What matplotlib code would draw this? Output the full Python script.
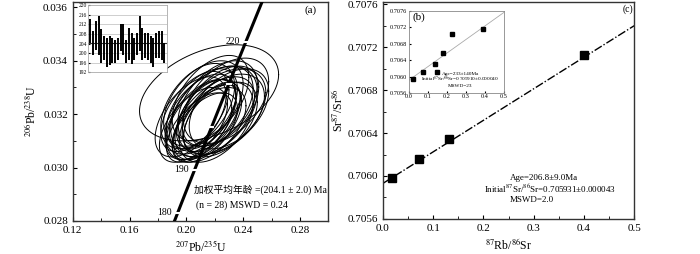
import numpy as np
import matplotlib
matplotlib.use('Agg')
import matplotlib.pyplot as plt

plt.rcParams['font.family'] = ['Liberation Serif', 'Noto Sans CJK SC']
plt.rcParams['mathtext.fontset'] = 'stix'
plt.rcParams['xtick.direction'] = 'in'
plt.rcParams['ytick.direction'] = 'in'

# U-Pb ellipses (207Pb/235U, 206Pb/238U, 2s errors, correlation)
ell_x = [0.212, 0.218, 0.205, 0.222, 0.210, 0.225, 0.215, 0.208, 0.220, 0.228, 0.213, 0.217, 0.203, 0.224,
         0.219, 0.209, 0.224, 0.214, 0.211, 0.226, 0.216, 0.206, 0.221, 0.212, 0.218, 0.230, 0.210, 0.216]
ell_y = [0.0318, 0.0322, 0.0316, 0.0324, 0.0320, 0.0321, 0.0317, 0.0323, 0.0319, 0.0325, 0.0315, 0.0326, 0.0319, 0.0318,
         0.0321, 0.0315, 0.0323, 0.0320, 0.0322, 0.0320, 0.0316, 0.0321, 0.0317, 0.0324, 0.0319, 0.0322, 0.0318, 0.0328]
ell_ex = [0.026, 0.029, 0.024, 0.028, 0.025, 0.031, 0.024, 0.026, 0.028, 0.030, 0.023, 0.027, 0.025, 0.026,
          0.031, 0.023, 0.027, 0.021, 0.025, 0.029, 0.026, 0.024, 0.026, 0.028, 0.020, 0.028, 0.025, 0.049]
ell_ey = [0.0015, 0.0016, 0.0014, 0.0016, 0.0015, 0.0016, 0.0014, 0.0016, 0.0015, 0.0016, 0.0013, 0.0016, 0.0015, 0.0014,
          0.0017, 0.0013, 0.0015, 0.0013, 0.0015, 0.0015, 0.0014, 0.0015, 0.0015, 0.0016, 0.0013, 0.0015, 0.0015, 0.0018]
ell_rho = [0.52, 0.48, 0.55, 0.45, 0.50, 0.44, 0.56, 0.47, 0.51, 0.45, 0.54, 0.49, 0.53, 0.46,
           0.44, 0.57, 0.48, 0.52, 0.50, 0.45, 0.51, 0.54, 0.47, 0.45, 0.58, 0.44, 0.53, 0.38]

# weighted mean inset: age ranges of each spot (Ma)
spot_lo = [204.1, 199.3, 201.3, 199.3, 196.0, 197.0, 194.1, 195.0, 196.0, 196.0, 197.0, 201.0, 199.3, 196.0,
           197.0, 195.3, 197.0, 199.3, 201.0, 197.0, 198.1, 197.0, 196.0, 194.1, 198.1, 198.1, 197.0, 196.0]
spot_hi = [214.3, 209.3, 213.3, 215.3, 210.1, 207.3, 206.3, 207.3, 206.3, 205.3, 206.3, 212.3, 212.3, 205.3,
           210.3, 208.3, 206.3, 208.3, 215.3, 210.3, 208.3, 208.3, 207.3, 206.3, 208.3, 209.3, 209.3, 204.3]
mean_age = 204.1

concordia_ages = [180, 190, 200, 210, 220]
concordia_labels = ['180', '190', '', '', '220']

# Rb-Sr isochron (c)
rb_sr = [0.018, 0.071, 0.131, 0.400]
sr_sr = [0.70598, 0.70616, 0.70634, 0.70713]
sr0_c = 0.705931
slope_c = 0.002937

# inset (b)
rb_sr_b = [0.023, 0.072, 0.135, 0.149, 0.179, 0.228, 0.388]
sr_sr_b = [0.70593, 0.70612, 0.70631, 0.70611, 0.70658, 0.70703, 0.70715]
sr0_b = 0.705910
slope_b = 0.00331

l238 = 1.55125e-10
l235 = 9.8485e-10

fig = plt.figure(figsize=(7, 2.54), dpi=100)

# ---------- (a) ----------
ax = fig.add_axes([0.104, 0.130, 0.365, 0.862])
t = np.linspace(0, 2 * np.pi, 200)
for i in range(len(ell_x)):
    r = ell_rho[i]
    xs = ell_x[i] + ell_ex[i] * np.cos(t)
    ys = ell_y[i] + ell_ey[i] * (r * np.cos(t) + np.sqrt(1 - r * r) * np.sin(t))
    ax.plot(xs, ys, color='black', lw=0.7, zorder=2)

ages = np.linspace(170e6, 235e6, 300)
ax.plot(np.exp(l235 * ages) - 1, np.exp(l238 * ages) - 1, color='black', lw=2.2, zorder=3)
for a, lab in zip(concordia_ages, concordia_labels):
    ax.plot(np.exp(l235 * a * 1e6) - 1, np.exp(l238 * a * 1e6) - 1, marker='_', ms=4, mew=1.5,
            color='white', zorder=4)
    if lab:
        ax.text(np.exp(l235 * a * 1e6) - 1 - 0.004, np.exp(l238 * a * 1e6) - 1, lab,
                fontsize=7, ha='right', va='center', zorder=5)

ax.text(0.2055, 0.02917, '加权平均年龄 =(204.1 ± 2.0) Ma', fontsize=7, va='center')
ax.text(0.2065, 0.02858, '(n = 28) MSWD = 0.24', fontsize=7, va='center')
ax.text(0.2877, 0.0359, '(a)', fontsize=8, ha='center', va='center')

ax.set_xlim(0.12, 0.30)
ax.set_ylim(0.028, 0.0362)
ax.set_xticks([0.12, 0.16, 0.20, 0.24, 0.28])
ax.set_xticks(np.arange(0.14, 0.30, 0.04), minor=True)
ax.set_yticks([0.028, 0.030, 0.032, 0.034, 0.036])
ax.set_yticks([0.029, 0.031, 0.033, 0.035], minor=True)
ax.set_xticklabels(['0.12', '0.16', '0.20', '0.24', '0.28'])
ax.set_yticklabels(['0.028', '0.030', '0.032', '0.034', '0.036'])
ax.tick_params(labelsize=8, length=3)
ax.tick_params(which='minor', length=2)
ax.set_xlabel('$^{207}$Pb/$^{235}$U', fontsize=8.5, labelpad=3)
ax.set_ylabel('$^{206}$Pb/$^{238}$U', fontsize=8.5, labelpad=4)
for s in ax.spines.values():
    s.set_linewidth(1.0)
    s.set_color('#333333')

# inset of (a)
axi = fig.add_axes([0.126, 0.715, 0.112, 0.265])
n = len(spot_lo)
idx = np.arange(1, n + 1)
axi.vlines(idx, spot_lo, spot_hi, color='black', lw=1.4)
axi.axhline(mean_age, color='#333333', lw=0.8, zorder=0)
for g in [196, 200, 208, 212, 216]:
    axi.axhline(g, color='#bbbbbb', lw=0.5, zorder=0)
axi.set_xlim(0.2, n + 0.8)
axi.set_ylim(192, 220)
axi.set_yticks(range(192, 221, 4))
axi.set_xticks([])
axi.tick_params(labelsize=4, length=1.5, pad=1)
for s in axi.spines.values():
    s.set_color('#aaaaaa')
    s.set_linewidth(0.6)

# ---------- (c) ----------
ax2 = fig.add_axes([0.547, 0.138, 0.359, 0.854])
xl = np.array([0.0, 0.5])
ax2.plot(xl, sr0_c + slope_c * xl, color='black', lw=1.0, ls=(0, (6, 1.5, 1, 1.5)), zorder=2)
ax2.plot(rb_sr, sr_sr, 's', color='black', ms=6, zorder=3)
ax2.text(0.253, 0.70598, 'Age=206.8±9.0Ma', fontsize=6.5, va='center')
ax2.text(0.202, 0.70588, 'Initial$^{87}$Sr/$^{86}$Sr=0.705931±0.000043', fontsize=6.5, va='center')
ax2.text(0.253, 0.70578, 'MSWD=2.0', fontsize=6.5, va='center')
ax2.text(0.488, 0.70755, '(c)', fontsize=7, ha='center', va='center')
ax2.set_xlim(0, 0.5)
ax2.set_ylim(0.7056, 0.70762)
ax2.set_xticks([0.0, 0.1, 0.2, 0.3, 0.4, 0.5])
ax2.set_xticks([0.05, 0.15, 0.25, 0.35, 0.45], minor=True)
ax2.set_yticks([0.7056, 0.7060, 0.7064, 0.7068, 0.7072, 0.7076])
ax2.set_yticks([0.7058, 0.7062, 0.7066, 0.7070, 0.7074], minor=True)
ax2.set_xticklabels(['0.0', '0.1', '0.2', '0.3', '0.4', '0.5'])
ax2.set_yticklabels(['0.7056', '0.7060', '0.7064', '0.7068', '0.7072', '0.7076'])
ax2.tick_params(labelsize=8, length=3)
ax2.tick_params(which='minor', length=2)
ax2.set_xlabel('$^{87}$Rb/$^{86}$Sr', fontsize=8.5, labelpad=3)
ax2.set_ylabel('Sr$^{87}$/Sr$^{86}$', fontsize=8.5, labelpad=2)
for s in ax2.spines.values():
    s.set_linewidth(1.0)
    s.set_color('#333333')

# inset (b)
axb = fig.add_axes([0.584, 0.634, 0.136, 0.323])
axb.plot(xl, sr0_b + slope_b * xl, color='#aaaaaa', lw=0.6, zorder=1)
axb.plot(rb_sr_b, sr_sr_b, 's', color='black', ms=2.8, zorder=2)
axb.text(0.02, 0.70745, '(b)', fontsize=8, va='center')
axb.text(0.27, 0.70606, 'Age=233±140Ma', fontsize=3.8, ha='center', va='center')
axb.text(0.27, 0.70592, 'Initial$^{87}$Sr/$^{86}$Sr=0.705910±0.000040', fontsize=3.8, ha='center', va='center')
axb.text(0.27, 0.70578, 'MSWD=23', fontsize=3.8, ha='center', va='center')
axb.set_xlim(0, 0.5)
axb.set_ylim(0.7056, 0.7076)
axb.set_xticks([0.0, 0.1, 0.2, 0.3, 0.4, 0.5])
axb.set_yticks([0.7056, 0.7060, 0.7064, 0.7068, 0.7072, 0.7076])
axb.set_xticklabels(['0.0', '0.1', '0.2', '0.3', '0.4', '0.5'])
axb.set_yticklabels(['0.7056', '0.7060', '0.7064', '0.7068', '0.7072', '0.7076'])
axb.tick_params(labelsize=4.5, length=1.5, pad=1)
for s in axb.spines.values():
    s.set_color('#888888')
    s.set_linewidth(0.6)

fig.savefig('out.png', dpi=100)
